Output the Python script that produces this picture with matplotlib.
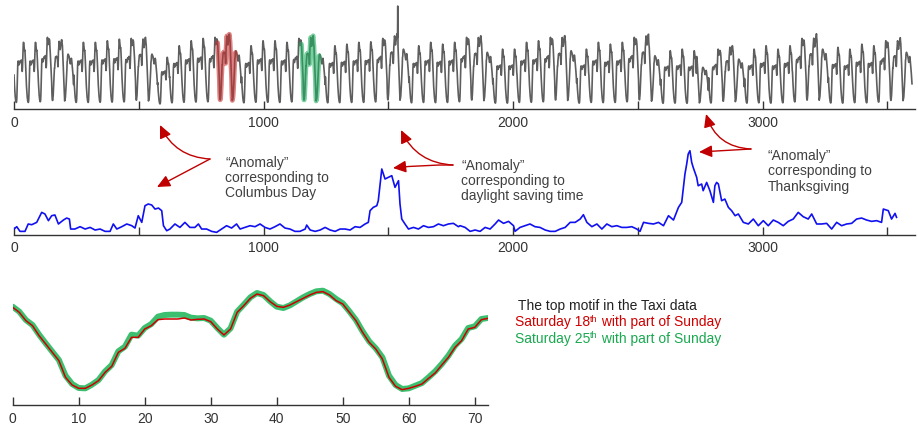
import matplotlib
matplotlib.use("Agg")
import matplotlib.pyplot as plt
import numpy as np
import pandas as pd
from matplotlib.patches import FancyArrowPatch

plt.rcParams['font.family'] = ['Liberation Sans', 'DejaVu Sans']

W, H = 918, 427

# ---- NYC taxi passengers, half-hourly, from 1 Oct 2014 (thousands) ----
series_start = '2014-10-01'
# typical daily shapes, 48 half-hour values each
weekday_shape = [14.0, 11.5, 9.5, 7.8, 6.3, 5.0, 4.0, 3.3, 2.9, 2.7, 2.8, 3.8,
                 6.5, 10.5, 15.0, 18.0, 19.5, 19.8, 19.2, 18.5, 18.2, 18.5, 19.0, 19.5,
                 19.8, 19.5, 19.2, 19.3, 19.8, 20.2, 20.0, 18.5, 16.5, 15.5, 17.0, 20.5,
                 24.0, 26.5, 27.5, 27.2, 26.0, 24.8, 24.0, 24.3, 23.8, 22.0, 19.5, 16.8]
friday_shape = [14.5, 12.0, 10.0, 8.2, 6.6, 5.2, 4.2, 3.5, 3.0, 2.8, 2.9, 3.8,
                6.3, 10.0, 14.5, 17.5, 19.0, 19.5, 19.0, 18.5, 18.3, 18.7, 19.3, 19.8,
                20.2, 20.0, 19.7, 19.8, 20.3, 20.7, 20.5, 19.0, 17.0, 16.0, 17.5, 21.0,
                24.5, 27.0, 27.8, 27.0, 25.8, 25.0, 25.2, 26.0, 26.8, 27.2, 27.0, 26.5]
saturday_shape = [26.5, 25.0, 22.7, 21.3, 18.5, 16.2, 13.8, 11.5, 6.8, 4.6, 3.7, 3.7,
                  4.6, 5.8, 8.1, 9.7, 13.5, 14.6, 17.6, 17.6, 19.8, 20.7, 22.3, 22.5,
                  22.5, 22.5, 22.8, 22.2, 22.4, 22.5, 21.8, 19.8, 18.2, 19.8, 24.3, 26.1,
                  28.1, 29.2, 28.7, 27.1, 25.9, 25.6, 26.2, 27.1, 28.1, 29.0, 29.7, 29.9]
sunday_shape = [28.3, 26.8, 26.0, 23.8, 21.6, 18.5, 15.8, 14.1, 11.4, 6.6, 4.2, 3.3,
                3.7, 4.2, 4.8, 6.3, 7.7, 9.9, 11.9, 14.5, 16.3, 19.4, 19.8, 21.8,
                22.3, 22.5, 22.3, 22.0, 21.8, 21.5, 21.0, 20.3, 19.5, 18.8, 18.5, 19.0,
                19.8, 20.5, 20.8, 20.3, 19.2, 18.0, 17.0, 16.0, 14.5, 13.0, 11.5, 10.0]
sunday_like_holidays = ['2014-11-27']   # Thanksgiving
# daily peak level (thousands)
day_peak = [25.4, 25.4, 27.3, 26.4, 20.9, 25.4, 25.4, 26.0, 26.6, 26.9,
            27.3, 20.9, 19.7, 24.1, 26.0, 26.9, 27.3, 28.5, 22.2, 24.1,
            26.0, 26.0, 25.4, 26.9, 27.9, 20.9, 24.1, 24.7, 25.4, 25.6,
            26.9, 28.5, 22.8, 24.1, 25.4, 24.7, 25.4, 27.3, 27.9, 21.6,
            22.8, 22.8, 25.4, 26.0, 27.3, 27.9, 22.2, 22.8, 25.4, 24.7,
            25.4, 27.3, 28.5, 20.3, 22.2, 22.8, 22.2, 15.9, 22.8, 24.1,
            19.0, 22.8, 24.1, 22.8, 24.1, 26.9, 27.6, 22.8, 23.5, 22.8,
            24.7, 24.1, 26.0, 26.6, 21.6]
dst_spike_index = 1538
dst_spike_value = 39.2

motif_len = 72
red_start = 816     # Saturday 18th
green_start = 1152  # Saturday 25th

# ---- matrix profile (sampled) ----
mp_index = [0, 11, 24, 44, 57, 71, 91, 111, 124, 138, 151, 164, 178, 198, 211, 222, 227, 244, 265, 285,
            305, 325, 345, 365, 385, 398, 412, 432, 452, 472, 485, 498, 512, 525, 538, 552, 565, 579, 592, 599,
            612, 625, 645, 665, 685, 705, 725, 739, 752, 772, 792, 812, 832, 852, 872, 892,
            906, 926, 946, 966, 986, 1006, 1026, 1046, 1066, 1086, 1106, 1126, 1146, 1167, 1173, 1187, 1207, 1227,
            1247, 1267, 1287, 1307, 1327, 1347, 1367, 1387, 1407, 1420, 1427, 1440, 1454, 1460, 1474, 1487, 1500,
            1514, 1527, 1541, 1547, 1554, 1567, 1581, 1601, 1621, 1641, 1661, 1681, 1701, 1721, 1741, 1761, 1781,
            1788, 1808, 1828, 1848, 1868, 1888, 1908, 1928, 1942, 1962, 1982, 2002, 2008, 2028, 2048, 2068, 2088,
            2108, 2129, 2149, 2169, 2189, 2209, 2229, 2249, 2269, 2282, 2296, 2316, 2336, 2356, 2376, 2396, 2416,
            2436, 2456, 2476, 2496, 2509, 2523, 2543, 2563, 2583, 2603, 2623, 2643, 2663, 2676,
            2689, 2696, 2702, 2709, 2716, 2722, 2736, 2742, 2756, 2762, 2776, 2789, 2803, 2809, 2816, 2823, 2836,
            2849, 2863, 2876, 2890, 2903, 2923, 2943, 2963, 2983, 3003, 3023, 3043, 3063, 3083, 3103, 3123, 3143,
            3163, 3183, 3197, 3217, 3237, 3257, 3277, 3297, 3317, 3337, 3357, 3377, 3397, 3417, 3437, 3457, 3477,
            3484, 3504, 3517, 3531, 3537]
mp_value = [0.63, 0.89, 0.37, 0.37, 1.19, 1.11, 1.37, 2.48, 2.30, 1.56, 2.11, 2.19, 1.19, 1.63, 1.85, 1.74, 0.63, 0.63, 0.89, 0.63,
            0.81, 0.52, 0.63, 0.37, 0.37, 1.19, 0.63, 0.89, 1.19, 1.00, 0.74, 2.11, 1.37, 3.22, 3.41, 3.30, 2.85, 2.96, 2.67, 1.00,
            0.44, 0.63, 1.19, 0.81, 1.37, 0.81, 0.81, 1.19, 0.63, 0.63, 0.37, 0.26, 0.63, 1.00, 0.74, 1.19,
            0.63, 0.81, 1.00, 0.89, 1.19, 0.81, 0.63, 0.89, 1.19, 0.74, 0.63, 0.37, 0.37, 0.63, 1.07, 0.52, 0.37, 0.52,
            0.81, 0.52, 0.37, 0.63, 0.63, 0.52, 0.89, 0.81, 1.19, 1.37, 2.67, 3.04, 3.22, 3.78, 7.30, 6.19, 6.37,
            6.56, 5.26, 6.00, 3.41, 1.74, 1.19, 0.63, 0.81, 0.63, 1.00, 0.81, 0.89, 1.19, 1.00, 1.19, 1.26, 0.89,
            1.00, 0.81, 0.37, 0.52, 0.37, 0.81, 0.63, 1.19, 1.63, 1.26, 1.48, 1.00, 0.37, 0.81, 1.00, 1.19, 0.89,
            0.81, 0.52, 0.37, 0.37, 0.63, 0.81, 1.37, 1.37, 1.74, 2.22, 1.37, 0.89, 1.19, 0.63, 1.19, 0.89, 1.00,
            0.81, 0.81, 0.89, 0.63, 0.37, 1.37, 1.26, 1.19, 1.37, 1.00, 2.11, 1.63, 3.04, 3.59,
            6.74, 7.85, 8.96, 9.33, 8.04, 7.48, 6.37, 5.44, 5.63, 4.89, 5.81, 4.89, 3.59, 5.44, 5.81, 5.63, 3.78,
            3.96, 3.04, 2.67, 2.11, 2.30, 1.37, 1.19, 1.74, 1.00, 1.56, 1.00, 1.63, 1.37, 1.00, 1.48, 1.74, 2.48,
            2.00, 1.74, 2.30, 1.19, 1.19, 1.26, 0.63, 1.37, 1.00, 1.19, 1.26, 1.74, 1.85, 1.63, 1.48, 1.56, 1.37,
            2.85, 2.67, 1.74, 2.37, 1.93]

# ---- the top motif (72 points, arbitrary units) ----
motif_x = list(range(73))
motif_red = [260, 245, 220, 205, 175, 150, 125, 100, 50, 27, 17, 17, 27, 40, 65, 83, 125, 137, 170, 170,
             195, 205, 223, 225, 225, 225, 228, 222, 224, 225, 217, 195, 177, 195, 245, 265, 287, 300, 295, 277,
             263, 260, 267, 277, 287, 297, 305, 307, 297, 280, 270, 245, 220, 185, 155, 135, 105, 50, 23, 13,
             17, 23, 30, 47, 63, 87, 110, 140, 160, 195, 200, 223, 227]
motif_green = [262, 247, 222, 207, 178, 152, 127, 102, 55, 30, 18, 17, 28, 42, 68, 87, 128, 142, 178, 175,
               198, 210, 232, 237, 238, 238, 237, 229, 227, 228, 220, 198, 178, 197, 247, 268, 290, 303, 297, 278,
               262, 258, 266, 278, 290, 300, 308, 310, 300, 285, 272, 248, 222, 188, 158, 137, 110, 55, 27, 15,
               17, 25, 33, 50, 68, 90, 115, 145, 165, 198, 203, 225, 228]

top_ticks = [0, 500, 1000, 1500, 2000, 2500, 3000, 3500]
top_labels = ['0', '', '1000', '', '2000', '', '3000', '']
motif_ticks = [0, 10, 20, 30, 40, 50, 60, 70]

GREY = '#5e5e5e'
BLUE = '#1010f0'
ARROW_RED = '#c00000'
TEXT = '#404040'
LEG_RED = '#d00000'
LEG_GREEN = '#1aa850'

# build the taxi series day by day
templates = {'weekday': weekday_shape, 'friday': friday_shape,
             'saturday': saturday_shape, 'sunday': sunday_shape}
dates = pd.date_range(series_start, periods=len(day_peak), freq='D')
chunks = []
for day, peak in zip(dates, day_peak):
    if day.dayofweek == 6 or str(day.date()) in sunday_like_holidays:
        kind = 'sunday'
    elif day.dayofweek == 5:
        kind = 'saturday'
    elif day.dayofweek == 4:
        kind = 'friday'
    else:
        kind = 'weekday'
    shape = np.array(templates[kind])
    chunks.append(shape * peak / shape[12:].max())
taxi = np.concatenate(chunks)
taxi[dst_spike_index] = dst_spike_value
taxi = taxi * 1000
t = np.arange(len(taxi))


def fpx(x, y):
    """pixel position (from top-left) -> figure fraction"""
    return (x / W, 1 - y / H)


def style_axis(ax, ticks, labels):
    for s in ['top', 'right', 'left']:
        ax.spines[s].set_visible(False)
    ax.spines['bottom'].set_color('#333333')
    ax.spines['bottom'].set_linewidth(1.0)
    ax.set_yticks([])
    ax.set_xticks(ticks)
    ax.set_xticklabels(labels)
    ax.tick_params(axis='x', direction='in', length=5.5, width=1.0, color='#333333',
                   labelsize=10, labelcolor='#333333', pad=4)
    ax.patch.set_alpha(0)


def superscript_line(x, y, day, color):
    """'Saturday NN^th with part of Sunday' with a small raised 'th'."""
    renderer = fig.canvas.get_renderer()
    parts = [(f'Saturday {day}', 10, 0), ('th', 6.5, 4.5), (' with part of Sunday', 10, 0)]
    cx = x
    for s, size, rise in parts:
        txt = fig.text(*fpx(cx, y - rise), s, fontsize=size, color=color, va='baseline', ha='left')
        cx += txt.get_window_extent(renderer).width


fig = plt.figure(figsize=(W / 100, H / 100), dpi=100)

# top: raw taxi data
ax_top = fig.add_axes([14 / W, 1 - 110 / H, 901 / W, 105 / H])
ax_top.plot(t, taxi, color=GREY, lw=1.2)
seg = slice(red_start, red_start + motif_len)
ax_top.plot(t[seg], taxi[seg], color='#c83030', lw=3.4, alpha=0.6, solid_capstyle='round')
seg = slice(green_start, green_start + motif_len)
ax_top.plot(t[seg], taxi[seg], color='#20b060', lw=3.4, alpha=0.6, solid_capstyle='round')
ax_top.set_xlim(0, 3611)
ax_top.set_ylim(0, 40000)
style_axis(ax_top, top_ticks, top_labels)

# middle: matrix profile
ax_mp = fig.add_axes([14 / W, 1 - 235.7 / H, 901 / W, 90 / H])
ax_mp.plot(mp_index, mp_value, color=BLUE, lw=1.2)
ax_mp.set_xlim(0, 3611)
ax_mp.set_ylim(0, 10)
style_axis(ax_mp, top_ticks, top_labels)

# bottom: the motif pair
ax_mot = fig.add_axes([12.7 / W, 1 - 406 / H, 475.3 / W, 121 / H])
ax_mot.plot(motif_x, np.array(motif_green) * 100, color='#3cc070', lw=4.3, solid_capstyle='round')
ax_mot.plot(motif_x, np.array(motif_red) * 100, color='#cc0000', lw=1.1)
ax_mot.set_xlim(0, 72)
ax_mot.set_ylim(-3300, 33000)
style_axis(ax_mot, motif_ticks, [str(v) for v in motif_ticks])

# annotations
notes = [
    (225, 178, '\u201cAnomaly\u201d\ncorresponding to\nColumbus Day'),
    (461, 181, '\u201cAnomaly\u201d\ncorresponding to\ndaylight saving time'),
    (768, 171.5, '\u201cAnomaly\u201d\ncorresponding to\nThanksgiving'),
]
for x, y, s in notes:
    fig.text(*fpx(x, y), s, ha='left', va='center', fontsize=10, color=TEXT, linespacing=1.1)

arrows = [
    ((210, 160), (160, 126), -0.3),
    ((210, 160), (157, 188), 0.0),
    ((453, 166), (401, 131), -0.3),
    ((453, 166), (393, 169), 0.03),
    ((751, 150), (706, 115), -0.35),
    ((751, 150), (699, 153), 0.0),
]
for a, b, rad in arrows:
    arr = FancyArrowPatch(fpx(*a), fpx(*b), transform=fig.transFigure,
                          arrowstyle='-|>,head_length=0.65,head_width=0.3',
                          connectionstyle=f'arc3,rad={rad}', mutation_scale=12,
                          color=ARROW_RED, lw=1.0, shrinkA=0, shrinkB=0)
    fig.add_artist(arr)

# motif legend
fig.text(*fpx(518, 310), 'The top motif in the Taxi data', fontsize=10, color='#222222', va='baseline')
superscript_line(515, 326.5, 18, LEG_RED)
superscript_line(515, 343, 25, LEG_GREEN)

fig.savefig('out.png', dpi=100)
